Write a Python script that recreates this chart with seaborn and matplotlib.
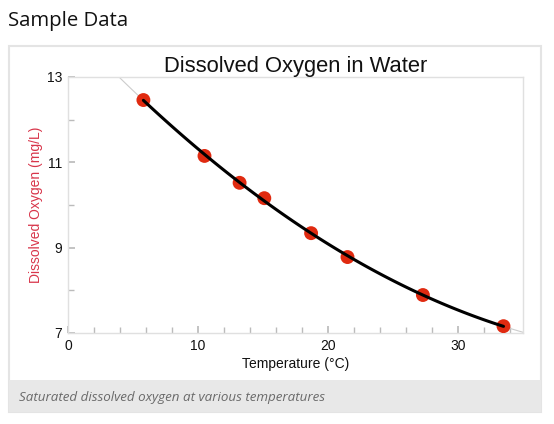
import numpy as np
import pandas as pd
import seaborn as sns
import matplotlib.pyplot as plt
from matplotlib.patches import Rectangle
from matplotlib.ticker import MultipleLocator

temperature = [5.8, 10.5, 13.2, 15.1, 18.7, 21.5, 27.3, 33.5]
oxygen = [12.46, 11.15, 10.52, 10.16, 9.34, 8.78, 7.89, 7.16]

df = pd.DataFrame({"Temperature": temperature, "Oxygen": oxygen})

sns.set_theme(style="white")
plt.rcParams['font.family'] = ['Liberation Sans', 'DejaVu Sans']

fig = plt.figure(figsize=(5.54, 4.24), dpi=100)
W, H = 554, 424

# card frame and caption bar
fig.patches.append(Rectangle((9 / W, 1 - 412 / H), 532 / W, 366 / H,
                             transform=fig.transFigure, facecolor="white",
                             edgecolor="#e4e4e4", lw=1.5, zorder=-2))
fig.patches.append(Rectangle((9 / W, 1 - 412 / H), 532 / W, 32 / H,
                             transform=fig.transFigure, facecolor="#e8e8e8",
                             edgecolor="none", zorder=-1))
fig.text(8 / W, 1 - 21 / H, "Sample Data", fontsize=14.7, family="Open Sans",
         va="center", ha="left", color="#111111")
fig.text(19 / W, 1 - 397 / H, "Saturated dissolved oxygen at various temperatures",
         fontsize=9.6, family="Open Sans", style="italic", color="#6a6a6a",
         va="center", ha="left")

ax = fig.add_axes([68 / W, 1 - 333 / H, 455 / W, 256 / H])
ax.set_zorder(2)
ax.set_xlim(0, 35)
ax.set_ylim(7, 13)

# extrapolated fit (thin gray) and the fitted curve over the data range
sns.regplot(data=df, x="Temperature", y="Oxygen", order=2, ci=None, truncate=False,
            scatter=False, ax=ax, line_kws={"color": "#cccccc", "lw": 0.8})
sns.regplot(data=df, x="Temperature", y="Oxygen", order=2, ci=None, truncate=True,
            ax=ax, scatter_kws={"s": 100, "color": "#e02a10", "alpha": 1, "zorder": 3,
                                "edgecolor": "none"},
            line_kws={"color": "black", "lw": 2.2, "zorder": 4})

ax.set_xlim(0, 35)
ax.set_ylim(7, 13)
ax.xaxis.set_major_locator(MultipleLocator(10))
ax.xaxis.set_minor_locator(MultipleLocator(2))
ax.set_yticks([7, 9, 11, 13])
ax.set_yticks([8, 10, 12], minor=True)
ax.tick_params(which="both", direction="in", color="#bbbbbb", labelsize=10,
               labelcolor="#111111", left=True, bottom=True, pad=4)
ax.tick_params(which="major", length=5)
ax.tick_params(which="minor", length=4)
for s in ax.spines.values():
    s.set_color("#e0e0e0")
    s.set_linewidth(1)

ax.set_title("Dissolved Oxygen in Water", fontsize=15.8, pad=3, color="#111111")
ax.set_xlabel("Temperature (°C)", fontsize=10, color="#111111", labelpad=3)
ax.set_ylabel("Dissolved Oxygen (mg/L)", fontsize=10, color="#d8354a", labelpad=3)

fig.savefig("out.png", dpi=100)
